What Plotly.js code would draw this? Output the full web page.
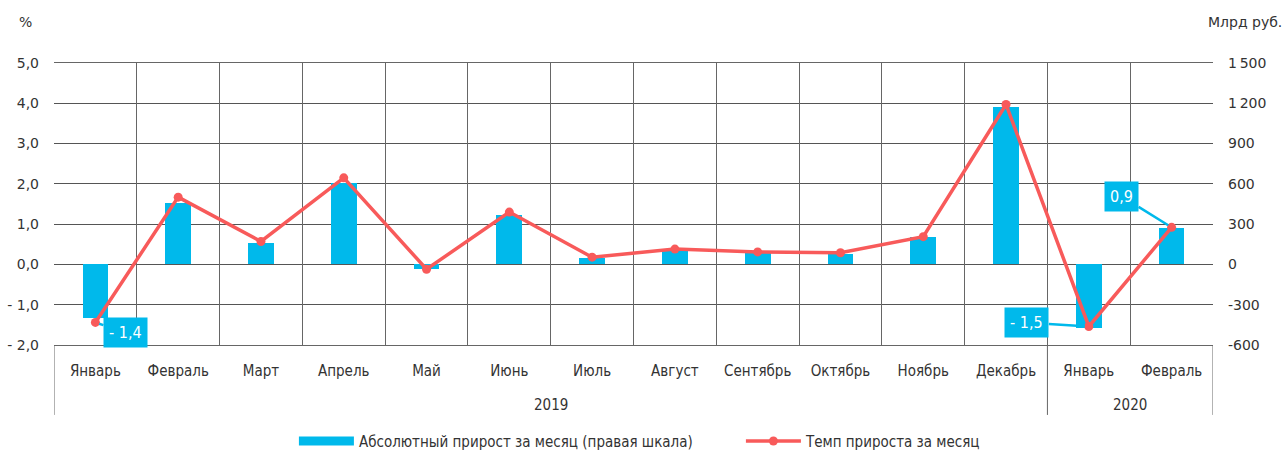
<!DOCTYPE html>
<html>
<head>
<meta charset="utf-8">
<script src="https://cdn.plot.ly/plotly-3.0.1.min.js"></script>
<style>html,body{margin:0;padding:0;background:#fff;}#chart{width:1285px;height:456px;}</style>
</head>
<body>
<div id="chart"></div>
<script>
// ---- data ----
const months = ["Январь","Февраль","Март","Апрель","Май","Июнь","Июль","Август","Сентябрь","Октябрь","Ноябрь","Декабрь","Январь","Февраль"];
const years = ["2019","2020"];
const yearSpans = [12, 2];   // number of months in each year group
const absGrowth = [-400, 455, 162, 610, -36, 369, 51, 103, 83, 80, 202, 1170, -470, 274];   // bn rub, right axis
const rateGrowth = [-1.44, 1.67, 0.57, 2.15, -0.12, 1.30, 0.18, 0.38, 0.31, 0.29, 0.69, 3.97, -1.54, 0.92]; // %, left axis
const callouts = [{i:0, text:"- 1,4"}, {i:12, text:"- 1,5"}, {i:13, text:"0,9"}];
const leftTicks = [5,4,3,2,1,0,-1,-2];
const leftTickText = ["5,0","4,0","3,0","2,0","1,0","0,0","- 1,0","- 2,0"];
const rightTicks = [1500,1200,900,600,300,0,-300,-600];
const rightTickText = ["1\u2009500","1\u2009200","900","600","300","0","-300","-600"];
const seriesNames = ["Абсолютный прирост за месяц (правая шкала)", "Темп прироста за месяц"];

// ---- build ----
const idx = months.map((_, i) => i);
const n = months.length;
const boundaries = [];
for (let i = 0; i <= n; i++) boundaries.push(i - 0.5);

const BLUE = "#00B9EB", RED = "#F85A5A";
const narrow = "Liberation Sans Narrow, DejaVu Sans Condensed, sans-serif";
const xFont = {family: narrow, size: 15, color: "#333"};
const yFont = {family: "DejaVu Sans, sans-serif", size: 14, color: "#333"};

const traces = [
  {type: "bar", x: idx, y: absGrowth, yaxis: "y", xaxis: "x", name: seriesNames[0],
   marker: {color: BLUE}, width: 0.31, hoverinfo: "skip", showlegend: false},
  // legend stand-in for the bar series (wide stripe swatch)
  {type: "scatter", mode: "lines", x: [null], y: [null], yaxis: "y", xaxis: "x", name: seriesNames[0],
   line: {color: BLUE, width: 9}, hoverinfo: "skip", legendrank: 1},
  {type: "scatter", mode: "lines+markers", x: idx, y: rateGrowth, yaxis: "y2", xaxis: "x", name: seriesNames[1],
   line: {color: RED, width: 3.5}, marker: {color: RED, size: 9}, hoverinfo: "skip", legendrank: 2},
  // invisible trace to host the category-boundary grid axis
  {type: "scatter", mode: "markers", x: [boundaries[0]], y: [0], xaxis: "x2", yaxis: "y",
   marker: {opacity: 0}, showlegend: false, hoverinfo: "skip"}
];

const annotations = [];
annotations.push({text: "%", xref: "paper", yref: "paper", x: -0.025, y: 1.145, xanchor: "center", yanchor: "middle", showarrow: false, font: yFont});
annotations.push({text: "Млрд руб.", xref: "paper", yref: "paper", x: 1.028, y: 1.145, xanchor: "center", yanchor: "middle", showarrow: false, font: yFont});
// year labels
let start = 0;
years.forEach((yr, k) => {
  const mid = start + (yearSpans[k] - 1) / 2;
  annotations.push({text: yr, xref: "x", yref: "paper", x: mid, y: -0.213, xanchor: "center", yanchor: "middle", showarrow: false, font: xFont});
  start += yearSpans[k];
});
const calloutOffsets = {0: [30, 10], 12: [-62, -4], 13: [-50, -31]};
callouts.forEach(c => {
  annotations.push({text: c.text, x: c.i, y: rateGrowth[c.i], xref: "x", yref: "y2",
    ax: calloutOffsets[c.i][0], ay: calloutOffsets[c.i][1], showarrow: true, arrowhead: 0, arrowwidth: 2.5,
    arrowcolor: BLUE, bgcolor: BLUE, borderpad: 5, standoff: 4,
    font: {family: narrow, size: 16, color: "#fff"}});
});

// vertical lines at year edges extending below the plot
const shapes = [];
let edge = -0.5;
const yearEdges = [edge];
yearSpans.forEach(s => { edge += s; yearEdges.push(edge); });
yearEdges.forEach(e => shapes.push({type: "line", xref: "x", yref: "paper", x0: e, x1: e, y0: 0, y1: -0.248, line: {color: "#666", width: 1}}));

const layout = {
  width: 1285, height: 456,
  margin: {l: 54, r: 72, t: 63, b: 111, autoexpand: false},
  paper_bgcolor: "#fff", plot_bgcolor: "#fff",
  showlegend: true,
  legend: {orientation: "h", x: 0.207, xanchor: "left", y: -0.283, yanchor: "top",
           font: {family: narrow, size: 15, color: "#333"},
           itemwidth: 55, entrywidth: 377, traceorder: "normal"},
  xaxis: {range: [-0.5, n - 0.5], tickvals: idx, ticktext: months, showgrid: false, zeroline: false,
          ticks: "", tickfont: xFont, showline: false, ticklabelstandoff: 15},
  xaxis2: {overlaying: "x", range: [-0.5, n - 0.5], tickvals: boundaries, showgrid: true, gridcolor: "#666", gridwidth: 1,
           showticklabels: false, ticks: "", zeroline: false, showline: true, linecolor: "#666", mirror: true},
  yaxis: {side: "right", range: [-600, 1500], tickvals: rightTicks, ticktext: rightTickText, tickfont: yFont,
          showgrid: true, gridcolor: "#555", gridwidth: 1, zeroline: false, ticks: "", ticklabelstandoff: 14},
  yaxis2: {side: "left", overlaying: "y", range: [-2, 5], tickvals: leftTicks, ticktext: leftTickText, tickfont: yFont,
           showgrid: false, zeroline: false, ticks: "", ticklabelstandoff: 14},
  annotations: annotations,
  shapes: shapes,
  bargap: 0
};

Plotly.newPlot("chart", traces, layout, {staticPlot: true, displayModeBar: false});
</script>
</body>
</html>
